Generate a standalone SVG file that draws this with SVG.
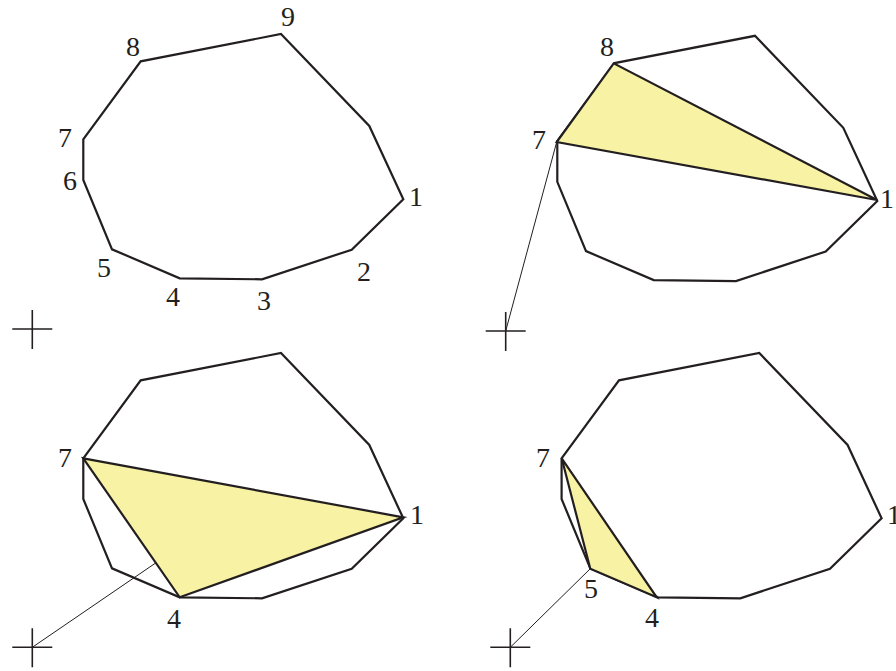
<svg xmlns="http://www.w3.org/2000/svg" width="896" height="671" viewBox="0 0 896 671">
<style>
.poly{fill:none;stroke:#231f20;stroke-width:2.2;stroke-linejoin:miter}
.tri{fill:#f8f2a4;stroke:#231f20;stroke-width:2.2;stroke-linejoin:miter}
.thin{fill:none;stroke:#231f20;stroke-width:1}
.cross{fill:none;stroke:#231f20;stroke-width:1.6}
.lbl{font-family:'Liberation Serif','Times New Roman',serif;font-size:28px;fill:#231f20;text-anchor:middle}
.lbs{text-anchor:start}
</style>
<defs>
<polygon id="shape" points="281,34 369.3,126 403.3,199.3 351.7,249.7 262,279.3 179.7,278.3 112,249.3 83.3,180 83.3,139.3 140.7,61.3"/>
<path id="plus" d="M-20,0H20M0,-19V20"/>
</defs>
<g id="connectors">
<line class="thin" x1="505.7" y1="331" x2="556.7" y2="142"/>
<line class="thin" x1="32.3" y1="647.3" x2="160" y2="560"/>
<line class="thin" x1="510.3" y1="647.3" x2="590.3" y2="568.7"/>
</g>
<g id="panel-a">
<use href="#shape" class="poly"/>
<use href="#plus" class="cross" x="32.3" y="329"/>
<text class="lbl" x="288" y="26">9</text>
<text class="lbl" x="133" y="56">8</text>
<text class="lbl" x="65" y="147">7</text>
<text class="lbl" x="70" y="190">6</text>
<text class="lbl" x="104" y="277">5</text>
<text class="lbl" x="173" y="306">4</text>
<text class="lbl" x="264" y="310">3</text>
<text class="lbl" x="364" y="281">2</text>
<text class="lbl" x="416" y="206">1</text>
</g>
<g id="panel-b">
<use href="#shape" class="poly" x="474" y="1.8"/>
<polygon class="tri" points="613.7,63.3 556.7,142 877,200"/>
<use href="#plus" class="cross" x="505.7" y="331"/>
<text class="lbl" x="607" y="56">8</text>
<text class="lbl" x="539" y="149">7</text>
<text class="lbl lbs" x="880" y="208">1</text>
</g>
<g id="panel-c">
<use href="#shape" class="poly" x="0" y="319"/>
<polygon class="tri" points="83.3,458.3 179.7,597.3 403.3,517.3"/>
<use href="#plus" class="cross" x="32.3" y="647.3"/>
<text class="lbl" x="65" y="467">7</text>
<text class="lbl" x="417" y="524">1</text>
<text class="lbl" x="174" y="628">4</text>
</g>
<g id="panel-d">
<use href="#shape" class="poly" x="478.3" y="319"/>
<polygon class="tri" points="561.7,458.3 590.3,568.7 656.7,597.3"/>
<use href="#plus" class="cross" x="510.3" y="647.3"/>
<text class="lbl" x="543" y="467">7</text>
<text class="lbl" x="591" y="598">5</text>
<text class="lbl" x="652" y="627">4</text>
<text class="lbl lbs" x="887" y="524">1</text>
</g>
</svg>
